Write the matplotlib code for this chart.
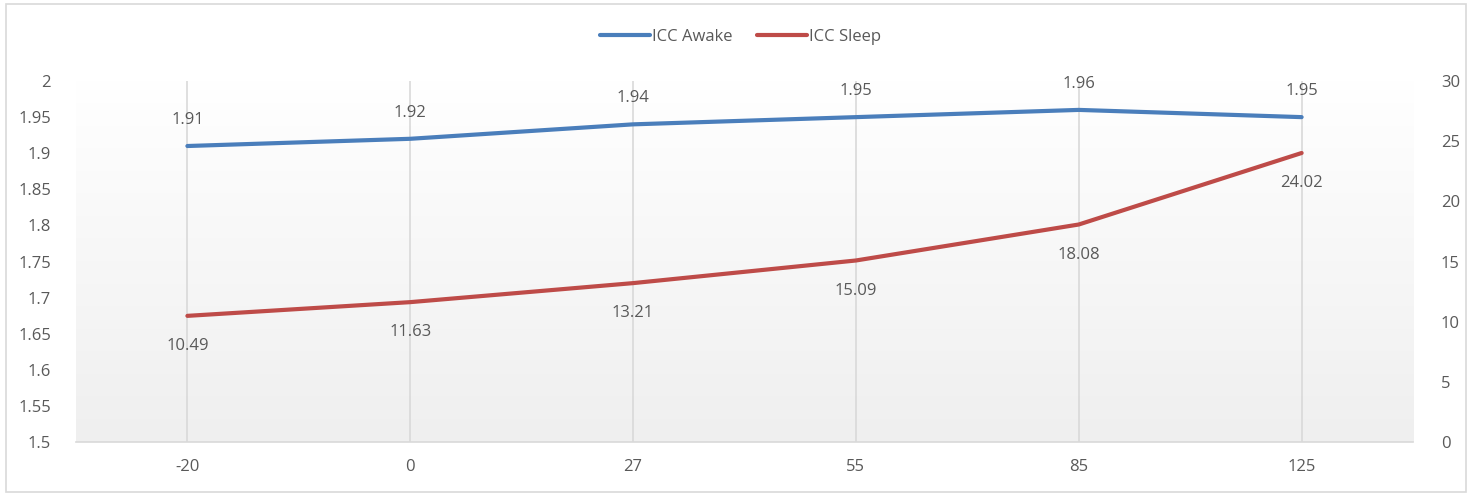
import numpy as np
import matplotlib.pyplot as plt
from matplotlib.patches import Rectangle

temps = ['-20', '0', '27', '55', '85', '125']
icc_awake = [1.91, 1.92, 1.94, 1.95, 1.96, 1.95]
icc_sleep = [10.49, 11.63, 13.21, 15.09, 18.08, 24.02]

BLUE = '#4a7ebb'
RED = '#be4b48'
TXT = '#595959'

plt.rcParams['font.family'] = ['Open Sans', 'DejaVu Sans']

fig = plt.figure(figsize=(14.75, 4.94), dpi=100)
ax = fig.add_axes([0.0515, 0.105, 0.9065, 0.731])
ax2 = ax.twinx()

x = np.arange(len(temps))

# background gradient (white top -> light gray bottom)
grad = np.linspace(1.0, 0.0, 256).reshape(-1, 1)
ax.imshow(grad, extent=[0, 1, 0, 1], transform=ax.transAxes, aspect='auto',
          cmap=plt.matplotlib.colors.LinearSegmentedColormap.from_list('g', ['#efefef', '#ffffff']),
          zorder=0)

for xi in x:
    ax.axvline(xi, color='#d9d9d9', lw=1.2, zorder=1)

l1, = ax.plot(x, icc_awake, color=BLUE, lw=3, solid_capstyle='round', zorder=3, label='ICC Awake')
l2, = ax2.plot(x, icc_sleep, color=RED, lw=3, solid_capstyle='round', zorder=3, label='ICC Sleep')

for xi, v in zip(x, icc_awake):
    ax.annotate(f'{v:g}', (xi, v), xytext=(0, 13), textcoords='offset points',
                ha='center', va='bottom', fontsize=12, color=TXT)
for xi, v in zip(x, icc_sleep):
    ax2.annotate(f'{v:.2f}', (xi, v), xytext=(0, -16), textcoords='offset points',
                 ha='center', va='top', fontsize=12, color=TXT)

ax.set_xlim(-0.5, len(temps) - 0.5)
ax.set_ylim(1.5, 2.0)
ax.set_yticks(np.arange(1.5, 2.001, 0.05))
ax.set_yticklabels([f'{t:g}' for t in np.arange(1.5, 2.001, 0.05).round(2)])
ax2.set_ylim(0, 30)
ax2.set_yticks(range(0, 31, 5))
ax.set_xticks(x)
ax.set_xticklabels(temps)

for a in (ax, ax2):
    for s in a.spines.values():
        s.set_visible(False)
    a.tick_params(length=0, labelsize=12, colors=TXT)
    a.patch.set_visible(False)
ax.spines['bottom'].set_visible(True)
ax.spines['bottom'].set_color('#d9d9d9')
ax.spines['bottom'].set_linewidth(1.2)
ax.tick_params(axis='y', pad=18)
ax.tick_params(axis='x', pad=12)
ax2.tick_params(axis='y', pad=20)

fig.legend([l1, l2], ['ICC Awake', 'ICC Sleep'], loc='center', bbox_to_anchor=(0.502, 0.925),
           ncol=2, frameon=False, fontsize=12, handlelength=3, columnspacing=1.5,
           handletextpad=0.1, labelcolor=TXT)

fig.patches.append(Rectangle((0.004, 0.004), 0.99, 0.988, transform=fig.transFigure,
                             fill=False, edgecolor='#d9d9d9', lw=1.2))

fig.savefig('out.png', dpi=100)
